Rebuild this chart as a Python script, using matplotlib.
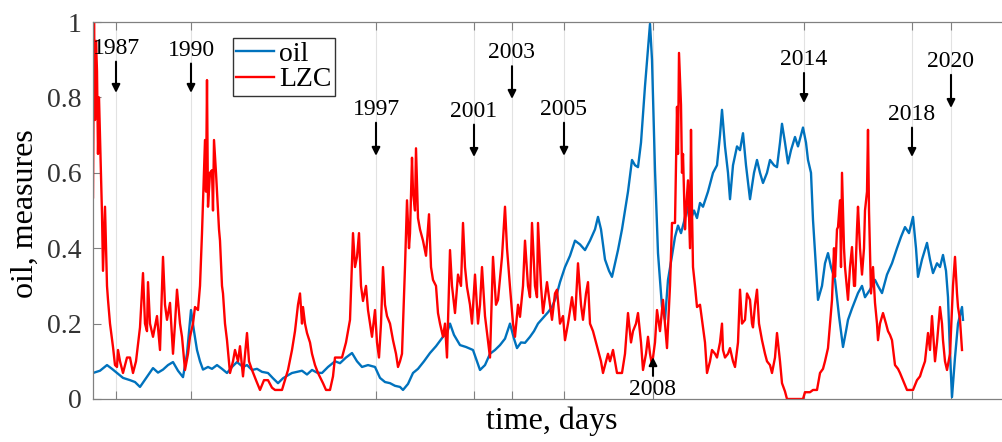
import numpy as np
import matplotlib.pyplot as plt

plt.rcParams['font.family'] = ['Liberation Serif', 'DejaVu Serif']

# (t, value) pairs; t is in units of 10 trading days from the first sample
oil_pts = [
    (0, .069), (7, .075), (14, .09), (19, .08), (24, .069), (30, .056), (37, .05), (42, .045),
    (47, .032), (53, .055), (60, .082), (65, .07), (70, .078), (75, .09), (80, .098), (85, .075),
    (90, .058), (94, .12), (98, .236), (101, .18), (104, .13), (107, .1), (110, .078), (115, .085),
    (119, .08), (124, .09), (129, .08), (134, .069), (139, .085), (144, .098), (150, .085), (154, .09),
    (159, .077), (164, .08), (169, .072), (175, .069), (180, .055), (185, .042), (190, .055), (195, .063),
    (199, .069), (204, .072), (209, .075), (214, .065), (219, .077), (224, .07), (229, .069), (235, .085),
    (242, .1), (247, .095), (253, .11), (259, .122), (264, .1), (269, .085), (275, .09), (282, .085),
    (287, .056), (292, .045), (297, .042), (302, .035), (307, .032), (310, .024), (315, .04), (320, .069),
    (325, .08), (331, .1), (337, .122), (343, .14), (350, .165), (354, .175), (357, .2), (361, .17),
    (367, .143), (373, .138), (380, .13), (384, .1), (387, .077), (392, .09), (397, .12), (402, .13),
    (407, .143), (412, .16), (417, .2), (421, .16), (424, .135), (428, .15), (432, .149), (437, .165),
    (441, .18), (445, .2), (450, .215), (455, .23), (459, .244), (463, .27), (467, .31), (472, .35),
    (477, .38), (482, .42), (487, .41), (492, .395), (497, .42), (502, .45), (505, .483), (508, .45),
    (512, .37), (516, .34), (519, .324), (522, .36), (525, .395), (529, .45), (532, .5), (535, .55),
    (539, .634), (542, .62), (545, .615), (548, .68), (552, .83), (555, .93), (557, .995), (559, .9),
    (562, .607), (565, .387), (569, .244), (572, .21), (575, .316), (579, .38), (582, .43), (585, .46),
    (588, .44), (591, .47), (594, .51), (597, .47), (601, .5), (604, .48), (607, .52), (610, .51),
    (615, .55), (620, .6), (624, .62), (627, .7), (629, .767), (632, .67), (635, .6), (637, .53),
    (640, .62), (644, .67), (647, .66), (650, .705), (653, .62), (657, .53), (661, .6), (664, .634),
    (667, .6), (670, .573), (674, .6), (677, .634), (681, .62), (684, .615), (687, .68), (689, .73),
    (692, .68), (695, .625), (698, .66), (702, .695), (705, .67), (708, .7), (710, .72), (713, .68),
    (715, .634), (718, .6), (720, .475), (723, .35), (725, .263), (729, .3), (732, .36), (735, .387),
    (738, .35), (742, .316), (746, .22), (750, .138), (753, .18), (755, .21), (759, .24), (765, .281),
    (769, .3), (772, .27), (777, .29), (782, .316), (785, .3), (789, .281), (794, .33), (799, .36),
    (804, .4), (808, .43), (812, .456), (816, .44), (820, .483), (823, .4), (825, .324), (829, .37),
    (834, .414), (837, .37), (840, .334), (844, .36), (847, .35), (850, .382), (853, .34), (855, .27),
    (857, .12), (859, .005), (862, .11), (865, .2), (869, .244), (870, .21),
]

lzc_pts = [
    (0, .535), (1, 1.0), (2, .74), (3, .95), (4, .87), (5, .65), (6, .8), (7, .7),
    (9, .49), (10, .34), (12, .51), (14, .3), (15, .263), (17, .2), (20, .138), (22, .09),
    (24, .085), (25, .13), (27, .1), (30, .069), (34, .11), (37, .11), (40, .069), (43, .1),
    (47, .19), (50, .334), (52, .2), (54, .18), (55, .31), (57, .2), (60, .165), (64, .22),
    (67, .13), (70, .377), (72, .25), (74, .21), (77, .255), (80, .12), (82, .2), (84, .29),
    (87, .2), (89, .165), (92, .077), (95, .12), (97, .165), (100, .2), (102, .244), (105, .236),
    (107, .3), (109, .44), (112, .687), (113, .55), (114, .846), (115, .51), (117, .6), (119, .607),
    (120, .5), (121, .687), (123, .6), (124, .55), (126, .45), (127, .42), (129, .3), (130, .28),
    (132, .2), (134, .156), (137, .069), (140, .1), (142, .13), (145, .1), (147, .14), (150, .06),
    (154, .175), (156, .1), (159, .077), (163, .05), (167, .024), (171, .05), (175, .05), (179, .03),
    (182, .024), (189, .024), (192, .05), (195, .077), (199, .13), (202, .18), (205, .25), (207, .28),
    (209, .2), (210, .244), (212, .2), (214, .175), (217, .15), (219, .12), (222, .09), (225, .069),
    (230, .042), (233, .024), (237, .024), (240, .06), (242, .11), (249, .11), (253, .15), (257, .21),
    (260, .44), (262, .35), (264, .377), (266, .44), (268, .3), (270, .26), (273, .3), (275, .236),
    (277, .2), (279, .165), (282, .236), (284, .15), (286, .11), (288, .2), (290, .35), (292, .25),
    (294, .22), (297, .2), (300, .156), (303, .12), (305, .085), (307, .1), (309, .12), (312, .35),
    (314, .527), (316, .4), (317, .44), (319, .64), (320, .55), (322, .5), (323, .665), (325, .48),
    (327, .45), (330, .42), (333, .38), (336, .49), (338, .35), (340, .316), (343, .3), (345, .228),
    (347, .2), (350, .165), (352, .2), (354, .11), (357, .395), (359, .3), (362, .228), (365, .33),
    (368, .3), (370, .467), (372, .35), (374, .297), (377, .25), (379, .2), (382, .33), (385, .2),
    (387, .25), (389, .35), (392, .22), (394, .175), (397, .11), (400, .377), (403, .25), (405, .263),
    (409, .377), (412, .51), (414, .4), (417, .297), (420, .2), (422, .165), (425, .25), (427, .218),
    (430, .3), (432, .42), (435, .3), (437, .27), (439, .467), (442, .3), (444, .27), (445, .467),
    (448, .3), (450, .228), (454, .31), (457, .25), (459, .21), (462, .28), (464, .29), (467, .2),
    (470, .22), (472, .156), (475, .2), (479, .27), (482, .21), (485, .36), (488, .25), (490, .21),
    (493, .28), (495, .31), (497, .2), (500, .18), (503, .15), (505, .13), (508, .1), (510, .069),
    (513, .1), (515, .12), (517, .1), (520, .13), (522, .1), (524, .069), (529, .069), (532, .12),
    (535, .228), (538, .15), (540, .18), (543, .2), (545, .228), (548, .15), (550, .077), (553, .12),
    (555, .165), (557, .12), (559, .09), (562, .15), (564, .236), (567, .18), (570, .263), (572, .2),
    (574, .135), (577, .3), (579, .467), (582, .467), (584, .775), (585, .65), (586, .918), (587, .85),
    (588, .78), (589, .6), (590, .65), (592, .45), (593, .5), (595, .58), (597, .4), (598, .714),
    (599, .5), (600, .35), (602, .3), (604, .244), (607, .25), (609, .21), (612, .15), (614, .069),
    (617, .1), (619, .13), (622, .12), (624, .11), (627, .15), (629, .2), (630, .13), (632, .11),
    (635, .12), (637, .135), (640, .1), (642, .085), (645, .15), (647, .29), (649, .2), (652, .21),
    (654, .28), (657, .263), (659, .2), (660, .19), (662, .25), (664, .29), (666, .2), (669, .156),
    (672, .12), (674, .1), (677, .09), (679, .069), (682, .11), (684, .175), (687, .1), (689, .042),
    (692, .02), (694, 0.0), (710, 0.0), (712, .018), (717, .018), (720, .024), (724, .024), (727, .069),
    (730, .08), (732, .1), (735, .135), (737, .2), (739, .263), (741, .4), (742, .324), (744, .45),
    (745, .456), (747, .527), (748, .35), (749, .6), (751, .4), (752, .35), (755, .263), (757, .35),
    (759, .403), (761, .3), (762, .3), (764, .45), (765, .51), (767, .4), (769, .33), (771, .4),
    (772, .5), (774, .55), (775, .714), (776, .5), (778, .28), (780, .35), (782, .255), (784, .2),
    (785, .156), (787, .2), (790, .228), (793, .2), (795, .18), (797, .17), (799, .156), (802, .09),
    (805, .08), (807, .069), (810, .05), (814, .024), (820, .024), (824, .05), (827, .06), (829, .077),
    (832, .1), (835, .175), (837, .13), (839, .22), (842, .1), (844, .15), (847, .244), (849, .2),
    (850, .156), (852, .1), (854, .077), (857, .12), (860, .3), (862, .377), (864, .28), (865, .244),
    (867, .21), (869, .13),
]

event_years = ['1987', '1990', '1997', '2001', '2003', '2005', '2008', '2014', '2018', '2020']
event_t = [23, 98, 283, 381, 419, 471, 560, 711, 819, 858]
# label height and arrow tip height (axis units) for each event
label_y = [0.93, 0.925, 0.768, 0.763, 0.918, 0.768, 0.026, 0.9, 0.755, 0.895]
tip_y = [0.812, 0.812, 0.645, 0.642, 0.796, 0.645, 0.111, 0.785, 0.642, 0.772]

days_per_t = 10
oil_t, oil_v = np.array(oil_pts).T
lzc_t, lzc_v = np.array(lzc_pts).T
event_days = np.array(event_t) * days_per_t

fig = plt.figure(figsize=(10.03, 4.42), dpi=100)
ax = fig.add_axes([93 / 1003, 43 / 442, 920 / 1003, 377 / 442])

ax.plot(oil_t * days_per_t, oil_v, color='#0072BD', lw=1.7, label='oil')
ax.plot(lzc_t * days_per_t, lzc_v, color='#FF0000', lw=1.7, label='LZC')

ax.set_xlim(0, 9200)
ax.set_ylim(0, 1)
ax.set_xticks(event_days)
ax.set_xticklabels([])
ax.set_yticks([0, 0.2, 0.4, 0.6, 0.8, 1])
ax.set_yticklabels(['0', '0.2', '0.4', '0.6', '0.8', '1'])
ax.xaxis.grid(True, color='#e2e2e2', lw=0.8)
ax.tick_params(direction='in', length=6, width=0.8, colors='#808080',
               labelcolor='#333333', labelsize=20, pad=8)
ax.tick_params(axis='x', top=True)
for s in ax.spines.values():
    s.set_color('#808080')
    s.set_linewidth(0.9)
ax.spines['right'].set_visible(False)

for yr, d, ty, tip in zip(event_years, event_days, label_y, tip_y):
    ax.annotate(yr, xy=(d, tip), xytext=(d, ty), ha='center', va='center', fontsize=17,
                arrowprops=dict(arrowstyle='-|>', color='black', lw=1.5,
                                mutation_scale=12, shrinkA=0, shrinkB=0))

ax.legend(loc='upper left', bbox_to_anchor=(233 / 1003, 1 - 38 / 442),
          bbox_transform=fig.transFigure, fontsize=20, handlelength=1.35,
          handletextpad=0.2, borderpad=0.12, labelspacing=0.0, borderaxespad=0,
          fancybox=False, framealpha=1, edgecolor='#333333')

fig.text(552 / 1003, 1 - 421 / 442, 'time, days', ha='center', va='center', fontsize=23)
fig.text(25 / 1003, 1 - 214 / 442, 'oil, measures', rotation=90, ha='center', va='center',
         fontsize=23)

fig.savefig('out.png', dpi=100)
